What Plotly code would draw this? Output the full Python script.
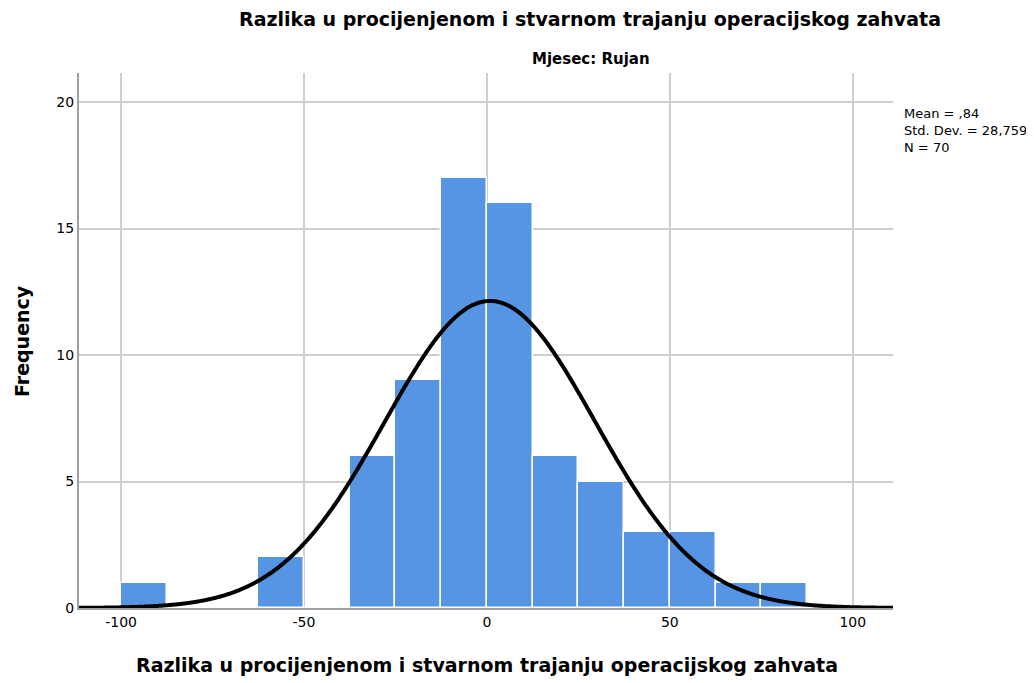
import numpy as np
import plotly.graph_objects as go

# Histogram data
bin_start = -100.0
bin_width = 12.5
counts = [1, 0, 0, 2, 0, 6, 9, 17, 16, 6, 5, 3, 3, 1, 1]
mean_val = 0.84
std_val = 28.759
n_val = 70
x_ticks = [-100, -50, 0, 50, 100]
y_ticks = [0, 5, 10, 15, 20]

edges = bin_start + bin_width * np.arange(len(counts) + 1)
centers = (edges[:-1] + edges[1:]) / 2

xr = [-111.5, 111.0]
xs = np.linspace(xr[0], xr[1], 600)
ys = n_val * bin_width / (std_val * np.sqrt(2 * np.pi)) * np.exp(-0.5 * ((xs - mean_val) / std_val) ** 2)

FONT = "DejaVu Sans, Verdana, sans-serif"

# plot area in page pixels (reference): left 79, right 893, top 73, bottom 608
PW, PH = 814, 535

def px(xp):
    return (xp - 79) / PW

def py(yp):
    return 1 - (yp - 73) / PH

fig = go.Figure()
fig.add_trace(go.Bar(
    x=centers, y=counts, width=bin_width,
    marker=dict(color="#5595E3", line=dict(color="white", width=1.5)),
    showlegend=False, hoverinfo="x+y",
))
fig.add_trace(go.Scatter(
    x=xs, y=ys, mode="lines",
    line=dict(color="black", width=4, shape="spline", simplify=False),
    showlegend=False, hoverinfo="skip",
))

fig.update_layout(
    width=1034, height=683,
    # page has an 8px body margin, so shift by 8px
    margin=dict(l=71, r=149, t=65, b=83),
    paper_bgcolor="white", plot_bgcolor="white",
    font=dict(family=FONT, color="black"),
    bargap=0,
    xaxis=dict(
        range=xr, tickvals=x_ticks, ticktext=[str(v) for v in x_ticks],
        showgrid=True, gridcolor="#CFCFCF", gridwidth=1.5,
        zeroline=False, showline=True, linecolor="#A0A0A0", linewidth=2,
        ticks="", tickfont=dict(size=14, family=FONT),
    ),
    yaxis=dict(
        range=[0, 21.15], tickvals=y_ticks,
        showgrid=True, gridcolor="#CFCFCF", gridwidth=1.5,
        zeroline=False, showline=True, linecolor="#A0A0A0", linewidth=2,
        ticks="", tickfont=dict(size=14, family=FONT),
    ),
    annotations=[
        dict(text="<b>Razlika u procijenjenom i stvarnom trajanju operacijskog zahvata</b>",
             xref="paper", yref="paper", x=px(590), y=py(19),
             xanchor="center", yanchor="middle", showarrow=False,
             font=dict(size=19, family=FONT)),
        dict(text="<b>Mjesec: Rujan</b>",
             xref="paper", yref="paper", x=px(591), y=py(59),
             xanchor="center", yanchor="middle", showarrow=False,
             font=dict(size=15, family=FONT)),
        dict(text="Mean = ,84<br>Std. Dev. = 28,759<br>N = 70",
             xref="paper", yref="paper", x=px(902), y=py(104),
             xanchor="left", yanchor="top", align="left", showarrow=False,
             font=dict(size=13, family=FONT)),
        dict(text="<b>Razlika u procijenjenom i stvarnom trajanju operacijskog zahvata</b>",
             xref="paper", yref="paper", x=px(487), y=py(665),
             xanchor="center", yanchor="middle", showarrow=False,
             font=dict(size=19, family=FONT)),
        dict(text="<b>Frequency</b>",
             xref="paper", yref="paper", x=px(22), y=py(341), textangle=-90,
             xanchor="center", yanchor="middle", showarrow=False,
             font=dict(size=19, family=FONT)),
    ],
)

fig.write_html("out.html")
